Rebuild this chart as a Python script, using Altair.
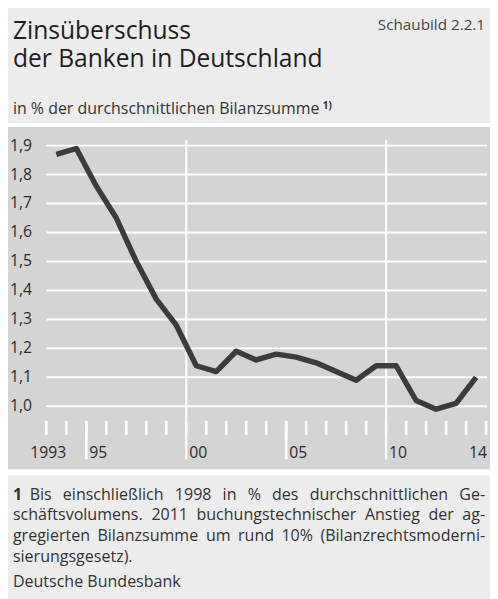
import altair as alt
import pandas as pd

# ---------------- data ----------------
years = [1993, 1994, 1995, 1996, 1997, 1998, 1999, 2000, 2001, 2002, 2003,
         2004, 2005, 2006, 2007, 2008, 2009, 2010, 2011, 2012, 2013, 2014]
values = [1.87, 1.89, 1.76, 1.65, 1.50, 1.37, 1.28, 1.14, 1.12, 1.19, 1.16,
          1.18, 1.17, 1.15, 1.12, 1.09, 1.14, 1.14, 1.02, 0.99, 1.01, 1.10]

tick_years = [1993, 1994, 1995, 1996, 1997, 1998, 1999, 2000, 2001, 2002, 2003, 2004,
              2005, 2006, 2007, 2008, 2009, 2010, 2011, 2012, 2013, 2014, 2015]
long_tick_years = [1995, 2005]
divider_years = [2000, 2010]
label_years = [1993, 1995, 2000, 2005, 2010, 2014]
label_texts = ["1993", "95", "00", "05", "10", "14"]
y_ticks = [1.0, 1.1, 1.2, 1.3, 1.4, 1.5, 1.6, 1.7, 1.8, 1.9]
y_labels = ["1,0", "1,1", "1,2", "1,3", "1,4", "1,5", "1,6", "1,7", "1,8", "1,9"]

title_lines = ["Zinsüberschuss", "der Banken in Deutschland"]
badge = "Schaubild 2.2.1"
subtitle = "in % der durchschnittlichen Bilanzsumme"
subtitle_note = "1)"
footnote_mark = "1"
footnote_lines = [
    "Bis einschließlich 1998 in % des durchschnittlichen Ge-",
    "schäftsvolumens. 2011 buchungstechnischer Anstieg der ag-",
    "gregierten Bilanzsumme um rund 10% (Bilanzrechtsmoderni-",
    "sierungsgesetz).",
]
source = "Deutsche Bundesbank"

# ---------------- layout ----------------
W, H = 447, 265
FONT = "Open Sans"
TXT = "#2b2b2b"
NOTE = "#333333"
PANEL = "#d4d4d4"
BG = "#ececec"
FS_NOTE = 16.3

xscale = alt.Scale(domain=[1993, 2015], nice=False, zero=False)
yscale = alt.Scale(domain=[1.0, 1.9], nice=False, zero=False)

one = pd.DataFrame({"k": [0]})
series = pd.DataFrame({"year": years, "value": values})
ticks_df = pd.DataFrame({"tick": tick_years})
long_df = pd.DataFrame({"lt": long_tick_years})
div_df = pd.DataFrame({"dv": divider_years})
xlab = pd.DataFrame({"year": label_years, "text": label_texts})
ylab = pd.DataFrame({"v": y_ticks, "text": y_labels})


def text(s, x, y, size, align="left", weight="normal", color=TXT):
    return alt.Chart(pd.DataFrame({"s": [s]})).mark_text(
        align=align, baseline="alphabetic", font=FONT, fontSize=size,
        fontWeight=weight, color=color
    ).encode(text="s:N", x=alt.value(x), y=alt.value(y))


# approximate Open Sans advance widths (em) used to justify the footnote lines
CW = {' ': .26, 'a': .556, 'b': .613, 'c': .476, 'd': .613, 'e': .561, 'f': .339,
      'g': .548, 'h': .614, 'i': .253, 'k': .525, 'l': .253, 'm': .930, 'n': .614,
      'o': .604, 'r': .408, 's': .477, 't': .353, 'u': .614, 'v': .501, 'z': .477,
      'ä': .556, 'ü': .614, 'ß': .63, 'A': .633, 'B': .648, 'G': .728, 'D': .729,
      '%': .828, '(': .281, ')': .281, '-': .322, '.': .266}
for d in "0123456789":
    CW[d] = .572


def justified(line, left, right, y, fs):
    words = line.split()
    widths = [fs * sum(CW.get(c, .55) for c in w) for w in words]
    gap = (right - left - sum(widths)) / (len(words) - 1)
    out, x = [], left
    for i, (w, wd) in enumerate(zip(words, widths)):
        if i == len(words) - 1:
            out.append(text(w, right, y, fs, align="right", color=NOTE))
        else:
            out.append(text(w, x, y, fs, color=NOTE))
        x += wd + gap
    return out


band_white = alt.Chart(one).mark_rect(color="white").encode(
    x=alt.value(-47), x2=alt.value(451), y=alt.value(-23), y2=alt.value(335))
band_gray = alt.Chart(one).mark_rect(color=PANEL).encode(
    x=alt.value(-47), x2=alt.value(451), y=alt.value(-19), y2=alt.value(329))

grid = alt.Chart(ylab).mark_rule(color="white", strokeWidth=2).encode(
    y=alt.Y("v:Q", scale=yscale, axis=None), x=alt.value(0), x2=alt.value(W + 1))

short_ticks = alt.Chart(ticks_df).mark_tick(
    color="white", thickness=2.6, size=14, orient="vertical", opacity=1
).encode(x=alt.X("tick:Q", scale=xscale, axis=None), y=alt.value(287))
long_t = alt.Chart(long_df).mark_rule(color="white", strokeWidth=2.6).encode(
    x=alt.X("lt:Q", scale=xscale, axis=None), y=alt.value(280), y2=alt.value(319))
divs = alt.Chart(div_df).mark_rule(color="white", strokeWidth=2).encode(
    x=alt.X("dv:Q", scale=xscale, axis=None), y=alt.value(-6), y2=alt.value(319))

line = alt.Chart(series).transform_calculate(mid="datum.year + 0.5").mark_line(
    color="#3d3b38", strokeWidth=5.5, strokeJoin="round"
).encode(
    x=alt.X("mid:Q", scale=xscale, axis=None),
    y=alt.Y("value:Q", scale=yscale, axis=None),
)

ylabels = alt.Chart(ylab).mark_text(
    align="left", baseline="middle", font=FONT, fontSize=16, color=TXT
).encode(y=alt.Y("v:Q", scale=yscale, axis=None), x=alt.value(-37), text="text:N")

xlab_first = alt.Chart(xlab).transform_filter("datum.year == 1993").mark_text(
    align="center", baseline="alphabetic", font=FONT, fontSize=16, color=TXT, dx=2
).encode(x=alt.X("year:Q", scale=xscale, axis=None), y=alt.value(318), text="text:N")
xlab_rest = alt.Chart(xlab).transform_filter("datum.year != 1993").mark_text(
    align="left", baseline="alphabetic", font=FONT, fontSize=16, color=TXT, dx=3
).encode(x=alt.X("year:Q", scale=xscale, axis=None), y=alt.value(318), text="text:N")

title = alt.Chart(one).mark_text(
    text=title_lines, align="left", baseline="alphabetic", font=FONT, fontSize=25,
    fontWeight=500, color="#1e1e1e", lineHeight=29
).encode(x=alt.value(-34), y=alt.value(-108.5))

texts = [
    title,
    text(badge, 446, -118, 15.5, align="right", color="#444444"),
    text(subtitle, -34, -32, 16.2, color=NOTE),
    text(subtitle_note, 281, -37, 10, weight="bold", color=NOTE),
    text(footnote_mark, -34, 360, FS_NOTE, weight="bold", color=NOTE),
]
texts += justified(footnote_lines[0], -17, 446, 360, FS_NOTE)
texts += justified(footnote_lines[1], -34, 446, 381, FS_NOTE)
texts += justified(footnote_lines[2], -34, 446, 402, FS_NOTE)
texts += [
    text(footnote_lines[3], -34, 423, FS_NOTE, color=NOTE),
    text(source, -34, 448.5, FS_NOTE, color=NOTE),
]

chart = alt.layer(
    band_white, band_gray, grid, short_ticks, long_t, divs, line,
    ylabels, xlab_first, xlab_rest, *texts
).properties(
    width=W, height=H,
    autosize=alt.AutoSizeParams(type="none"),
    padding={"left": 39, "top": 135, "right": 4, "bottom": 191},
    background=BG,
).configure_view(stroke=None)

chart.save("out.html", embed_options={"renderer": "svg", "actions": False})
